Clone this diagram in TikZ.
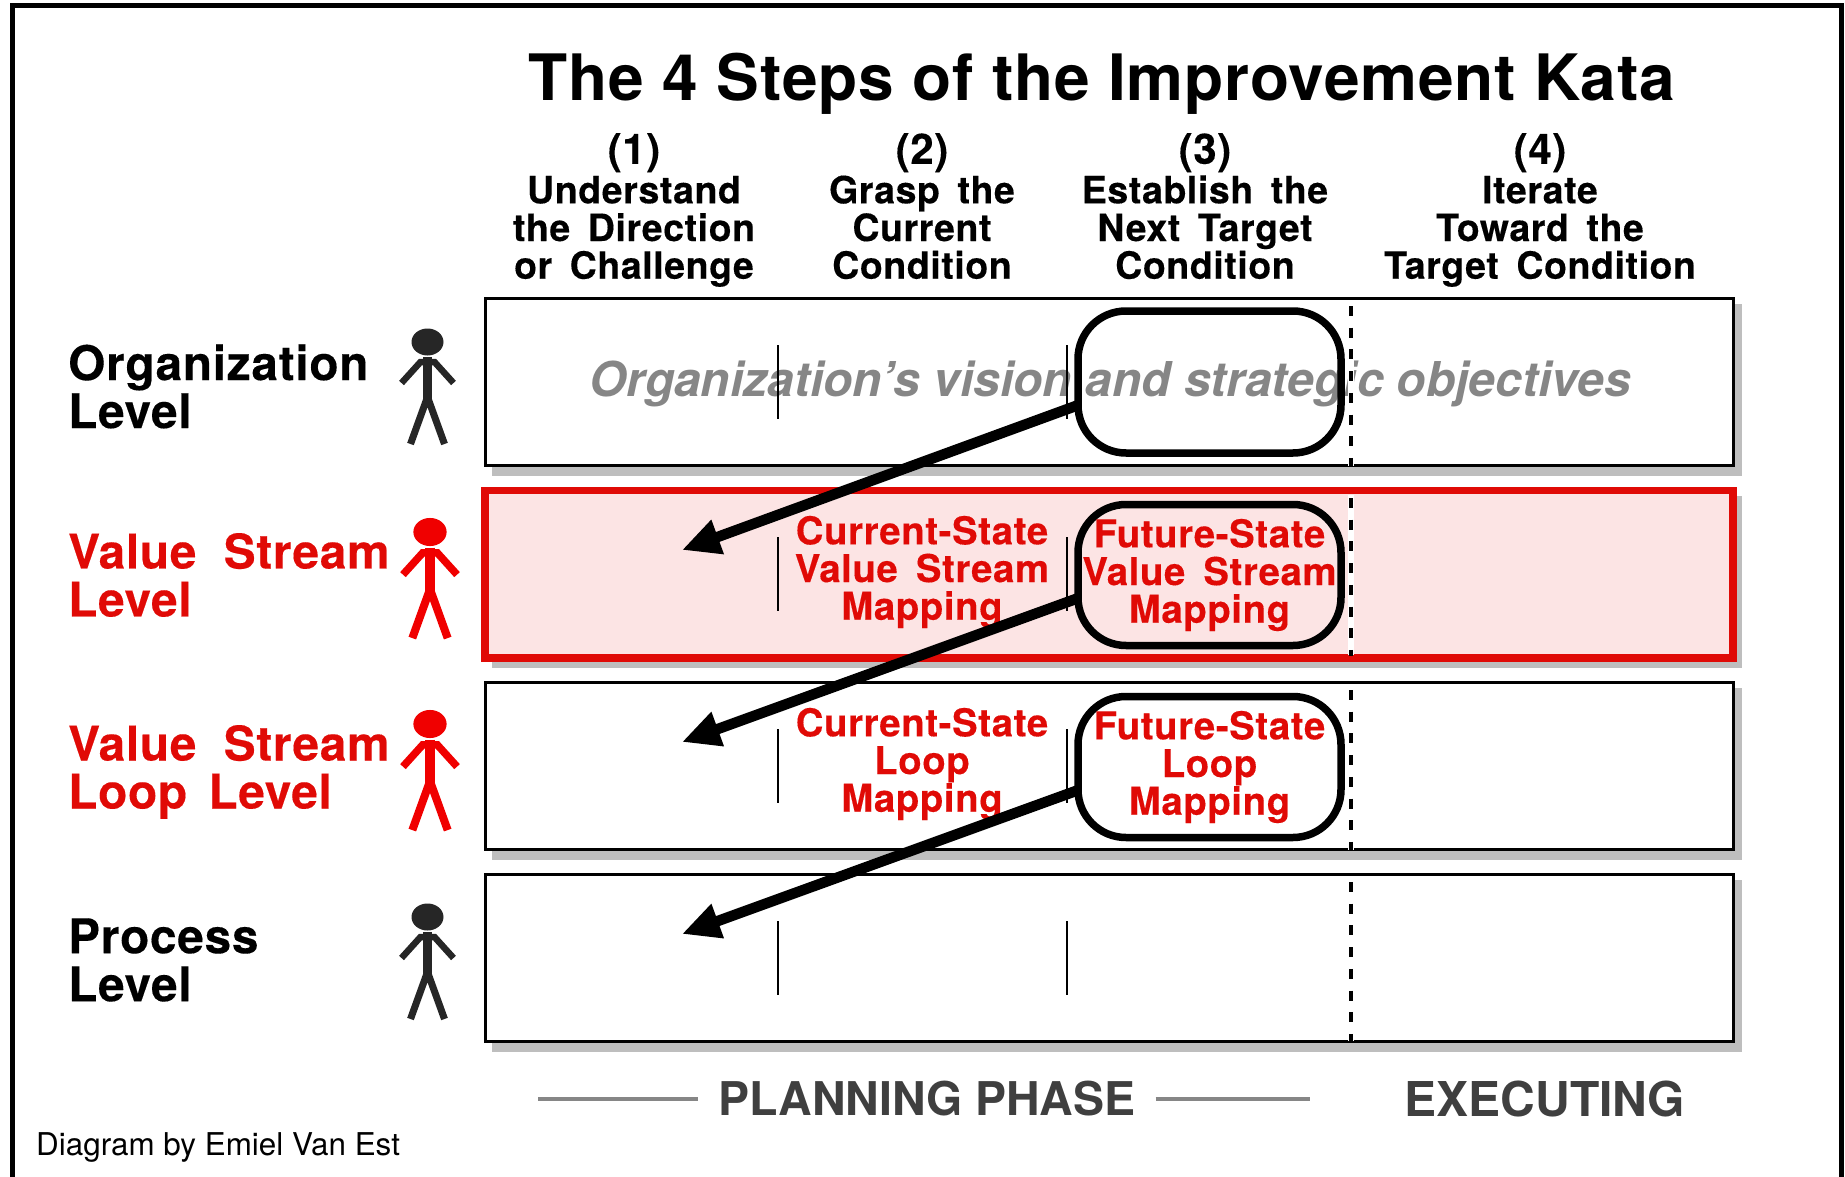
\documentclass[tikz,border=0pt]{standalone}
\usepackage{fontspec}
\setmainfont{TeX Gyre Heros}[LetterSpace=1.5,WordSpace=1.6,FakeBold=0.25]
\newfontfamily\levelfont{TeX Gyre Heros}[LetterSpace=1.5,WordSpace=1.95,FakeBold=0.25]
\newfontfamily\titlefont{TeX Gyre Heros}[LetterSpace=1.2]
\newfontfamily\plainfont{TeX Gyre Heros}[WordSpace=1.15]
\newfontfamily\creditfont{TeX Gyre Heros}
\usetikzlibrary{arrows.meta}
\definecolor{kataRed}{HTML}{E00A06}
\definecolor{kataPink}{HTML}{FCE4E4}
\definecolor{kataShadow}{HTML}{BEBEBE}
\definecolor{kataInk}{HTML}{262626}
\definecolor{kataGrey}{HTML}{868686}
\definecolor{kataPhase}{HTML}{3F3F3F}
\definecolor{manRed}{HTML}{F00000}
\newcommand{\HeadFont}{\bfseries\fontsize{37.5}{37.7}\selectfont}
\newcommand{\StepFont}{\bfseries\fontsize{38.4}{37.7}\selectfont}
\newcommand{\LevelFont}{\levelfont\bfseries\fontsize{47.8}{48}\selectfont}
\tikzstyle{Row}=[rectangle, minimum width=1248, minimum height=167.5, inner sep=0, outer sep=0, draw=black, line width=3, fill=white]
\tikzstyle{RedRow}=[Row, draw=kataRed, line width=7.5, fill=kataPink]
\tikzstyle{Shadow}=[rectangle, minimum width=1250, minimum height=172, inner sep=0, outer sep=0, fill=kataShadow]
\tikzstyle{Target}=[rectangle, rounded corners=48, minimum width=263, minimum height=142, inner sep=0, outer sep=0, draw=black, line width=7.5, align=center, font=\StepFont, text=kataRed]
\tikzstyle{Current}=[align=center, font=\StepFont, text=kataRed, inner sep=0]
\tikzstyle{Head}=[anchor=north, align=center, font=\HeadFont, inner sep=0]
\tikzstyle{Level}=[anchor=west, align=left, font=\LevelFont, inner sep=0]
\tikzstyle{Tick}=[draw=black, line width=2]
\tikzstyle{Gap}=[draw=white, line width=6]
\tikzstyle{Divider}=[draw=black, line width=4.5, dash pattern=on 10 off 11.7]
\tikzstyle{Feedback}=[draw=black, line width=10.5, -{Triangle[length=38, width=34]}]
\tikzstyle{Phase}=[text=kataPhase, inner xsep=20, inner ysep=0]
\tikzstyle{PhaseLine}=[draw=kataGrey, line width=4]
\tikzset{pics/man/.style 2 args={code={
    \fill[#1] (0,0) ellipse [x radius=16, y radius=13.5];
    \draw[#1, line width=#2] (0,15) -- (0,60);
    \draw[#1, line width=#2-2] (0,55) -- (-17,102) (0,55) -- (17,102);
    \draw[#1, line width=#2-2.5] (-26,41) -- (-7,20) -- (7,20) -- (26,41);
}}}

\begin{document}
\begin{tikzpicture}[x=1pt, y=-1pt]
    \useasboundingbox (0,0) rectangle (1845,1177);
    \draw[line width=5] (12,1177) -- (12,6) -- (1841,6) -- (1841,1177);

    \path
    (1117,390) node[Shadow] (shadow1) {}
    (1117,582) node[Shadow] (shadow2) {}
    (1117,774) node[Shadow] (shadow3) {}
    (1117,966) node[Shadow] (shadow4) {}
    (1109,382) node[Row] (org) {}
    (1109,574) node[RedRow] (stream) {}
    (1109,766) node[Row] (loop) {}
    (1109,958) node[Row] (process) {};

    \path
    (1102,84) node[font=\titlefont\bfseries\fontsize{64}{66}\selectfont] (title) {The 4 Steps of the Improvement Kata}
    (634,133) node[Head] (step1) {{\fontsize{42}{38.6}\selectfont (1)}\\[1.8pt]Understand\\the Direction\\or Challenge}
    (922,133) node[Head] (step2) {{\fontsize{42}{38.6}\selectfont (2)}\\[1.8pt]Grasp the\\Current\\Condition}
    (1205,133) node[Head] (step3) {{\fontsize{42}{38.6}\selectfont (3)}\\[1.8pt]Establish the\\Next Target\\Condition}
    (1540,133) node[Head] (step4) {{\fontsize{42}{38.6}\selectfont (4)}\\[1.8pt]Iterate\\Toward the\\Target Condition};

    \path
    (68,386.5) node[Level] (orgLabel) {Organization\\Level}
    (68,575) node[Level, text=kataRed] (streamLabel) {Value Stream\\Level}
    (68,772) node[Level, text=kataRed] (loopLabel) {Value Stream\\Loop\hspace{-6pt} Level}
    (68,960) node[Level] (processLabel) {Process\\Level};

    \path (427.5,342) pic {man={kataInk}{9}}
    (430,532) pic[scale=1.04] {man={manRed}{10}}
    (430,724) pic[scale=1.04] {man={manRed}{10}}
    (427.5,917) pic {man={kataInk}{9}};

    \path
    (1110,384) node[font=\plainfont\bfseries\itshape\fontsize{48}{48}\selectfont, text=kataGrey] (vision) {Organization’s vision and strategic objectives}
    (922,572) node[Current] (curStream) {Current-State\\Value Stream\\Mapping}
    (922,764) node[Current] (curLoop) {Current-State\\Loop\\Mapping};

    \draw[Tick] (778,345) -- (778,419) (1066.5,345) -- (1066.5,419);
    \draw[Tick] (778,537) -- (778,611) (1066.5,537) -- (1066.5,611);
    \draw[Tick] (778,729) -- (778,803) (1066.5,729) -- (1066.5,803);
    \draw[Tick] (778,921) -- (778,995) (1066.5,921) -- (1066.5,995);

    \coordinate (tip1) at (682,550);
    \coordinate (tip2) at (682,742);
    \coordinate (tip3) at (682,934);

    \path
    (1209.5,382) node[Target] (future1) {}
    (1209.5,575) node[Target, minimum height=141] (future2) {Future-State\\Value Stream\\Mapping}
    (1209.5,767) node[Target, minimum height=141] (future3) {Future-State\\Loop\\Mapping};

    \draw[Feedback] (future1.190) -- (tip1);
    \draw[Feedback] (future2.190) -- (tip2);
    \draw[Feedback] (future3.190) -- (tip3);

    \draw[Gap] (1351,306) -- (1351,466) (1351,495) -- (1351,655) (1351,690) -- (1351,850) (1351,882) -- (1351,1041);
    \draw[Divider] (1351,306) -- (1351,466);
    \draw[Divider] (1351,498) -- (1351,656);
    \draw[Divider] (1351,690) -- (1351,850);
    \draw[Divider] (1351,882) -- (1351,1041);

    \path
    (927,1099) node[Phase, font=\plainfont\bfseries\fontsize{46.5}{48}\selectfont] (planning) {PLANNING PHASE}
    (1545,1099) node[Phase, inner xsep=0, font=\plainfont\bfseries\fontsize{48}{48}\selectfont] (executing) {EXECUTING}
    (538,1099) coordinate (planLeft)
    (1310,1099) coordinate (planRight);
    \draw[PhaseLine] (planLeft) -- (planning);
    \draw[PhaseLine] (planning) -- (planRight);

    \path (36,1147) node[anchor=west, inner sep=0, font=\creditfont\fontsize{31.4}{34}\selectfont] (credit) {Diagram by Emiel Van Est};
\end{tikzpicture}
\end{document}
